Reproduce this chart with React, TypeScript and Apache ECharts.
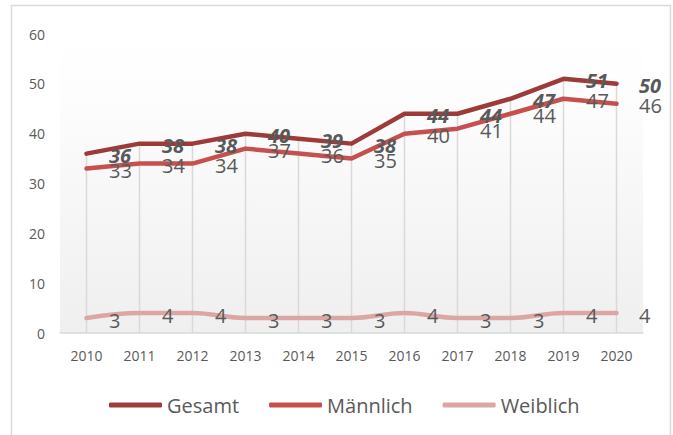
import React, { useEffect, useRef } from "react";
import * as echarts from "echarts";

const years = ["2010", "2011", "2012", "2013", "2014", "2015", "2016", "2017", "2018", "2019", "2020"];
const gesamt = [36, 38, 38, 40, 39, 38, 44, 44, 47, 51, 50];
const maennlich = [33, 34, 34, 37, 36, 35, 40, 41, 44, 47, 46];
const weiblich = [3, 4, 4, 3, 3, 3, 4, 3, 3, 4, 4];

const FONT = "Open Sans";

export default function App() {
  const ref = useRef<HTMLDivElement>(null);
  useEffect(() => {
    if (!ref.current) return;
    const chart = echarts.init(ref.current, undefined, { renderer: "svg" });
    const labelBase = {
      show: true,
      position: "right",
      distance: 22,
      offset: [0, 2],
      fontSize: 20,
      fontFamily: FONT,
      color: "#595959",
    };
    chart.setOption({
      animation: false,
      backgroundColor: "#ffffff",
      textStyle: { fontFamily: FONT },
      graphic: [
        {
          type: "rect",
          x: 11.5,
          y: 5.5,
          shape: { width: 659, height: 445 },
          style: { fill: "none", stroke: "#d9d9d9", lineWidth: 1.5 },
          silent: true,
        },
      ],
      grid: {
        left: 60,
        right: 30,
        top: 34,
        bottom: 102,
        show: true,
        borderWidth: 0,
        backgroundColor: new echarts.graphic.LinearGradient(0, 0, 0, 1, [
          { offset: 0, color: "#ffffff" },
          { offset: 0.2, color: "#fdfdfd" },
          { offset: 1, color: "#efefef" },
        ]),
      },
      legend: {
        left: 104,
        top: 390,
        itemWidth: 53,
        itemHeight: 5,
        itemGap: 30,
        icon: "roundRect",
        data: ["Gesamt", "Männlich", "Weiblich"],
        textStyle: { fontSize: 20, color: "#595959", fontFamily: FONT },
      },
      xAxis: {
        type: "category",
        data: years,
        boundaryGap: true,
        axisLine: { lineStyle: { color: "#d9d9d9", width: 1.5 } },
        axisTick: { show: false },
        axisLabel: { fontSize: 14, color: "#595959", margin: 15, fontFamily: FONT },
        splitLine: { show: false },
      },
      yAxis: {
        type: "value",
        min: 0,
        max: 60,
        interval: 10,
        axisLine: { show: false },
        axisTick: { show: false },
        splitLine: { show: false },
        axisLabel: { fontSize: 14, color: "#595959", margin: 15, fontFamily: FONT },
      },
      series: [
        {
          name: "drop",
          type: "bar",
          data: gesamt,
          barWidth: 1.5,
          itemStyle: { color: "#d9d9d9" },
          silent: true,
          z: 1,
        },
        {
          name: "Weiblich",
          type: "line",
          data: weiblich,
          symbol: "circle",
          symbolSize: 1,
          showSymbol: true,
          smooth: 0.4,
          smoothMonotone: "x",
          lineStyle: { color: "#dca6a5", width: 4.5, cap: "round" },
          itemStyle: { color: "#dca6a5" },
          label: { ...labelBase },
          z: 3,
        },
        {
          name: "Männlich",
          type: "line",
          data: maennlich,
          symbol: "circle",
          symbolSize: 1,
          showSymbol: true,
          lineStyle: { color: "#c6504e", width: 4.5, cap: "round", join: "round" },
          itemStyle: { color: "#c6504e" },
          label: { ...labelBase },
          z: 4,
        },
        {
          name: "Gesamt",
          type: "line",
          data: gesamt,
          symbol: "circle",
          symbolSize: 1,
          showSymbol: true,
          lineStyle: { color: "#9c3b39", width: 4.5, cap: "round", join: "round" },
          itemStyle: { color: "#9c3b39" },
          label: { ...labelBase, fontWeight: "bold", fontStyle: "italic" },
          z: 5,
        },
      ],
    });
    return () => chart.dispose();
  }, []);
  return (
    <div
      ref={ref}
      style={{ position: "fixed", left: 0, top: 0, width: 673, height: 435 }}
    />
  );
}
